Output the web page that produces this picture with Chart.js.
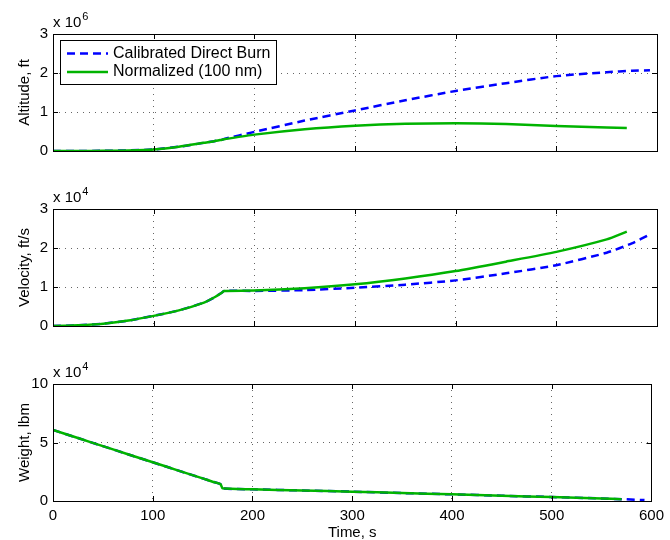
<!doctype html>
<html lang="en">
<head>
<meta charset="utf-8">
<title>Calibrated Direct Burn vs Normalized</title>
<style>
  body { margin: 0; background: #fff; }
  .panel { position: absolute; left: 0; width: 670px; }
</style>
</head>
<body>
<div class="panel" style="top:0;height:175px"><canvas id="alt"></canvas></div>
<div class="panel" style="top:175px;height:175px"><canvas id="vel"></canvas></div>
<div class="panel" style="top:350px;height:190px"><canvas id="wt"></canvas></div>
<script src="https://cdn.jsdelivr.net/npm/chart.js"></script>
<script>
// time, s
const tBurn = [0, 25, 50, 75, 100, 125, 150, 160, 168, 170, 200, 250, 300, 350, 400, 450, 500, 550, 575, 593];
const tNorm = [0, 25, 50, 75, 100, 125, 150, 160, 168, 170, 200, 250, 300, 350, 400, 450, 500, 550, 570];

// altitude, ft
const altBurn = [0, 0.001e6, 0.005e6, 0.015e6, 0.04e6, 0.11e6, 0.21e6, 0.25e6, 0.29e6, 0.31e6, 0.49e6, 0.78e6, 1.04e6, 1.30e6, 1.54e6, 1.74e6, 1.92e6, 2.02e6, 2.06e6, 2.07e6];
const altNorm = [0, 0.001e6, 0.005e6, 0.015e6, 0.04e6, 0.11e6, 0.21e6, 0.25e6, 0.29e6, 0.30e6, 0.42e6, 0.56e6, 0.65e6, 0.70e6, 0.71e6, 0.69e6, 0.64e6, 0.60e6, 0.59e6];

// velocity, ft/s
const velBurn = [0, 200, 600, 1400, 2600, 4000, 6000, 7300, 8600, 9000, 9000, 9200, 9800, 10600, 11700, 13500, 15600, 18800, 21200, 23500];
const velNorm = [0, 200, 600, 1400, 2600, 4000, 6000, 7300, 8600, 9000, 9100, 9700, 10700, 12200, 14100, 16500, 19000, 22200, 24200];

// weight, lbm
const wtBurn = [60700, 53800, 46900, 40000, 33100, 26200, 19300, 16500, 14300, 10900, 10000, 9000, 8000, 6800, 5700, 4500, 3400, 2200, 1400, 800];
const wtNorm = [60700, 53800, 46900, 40000, 33100, 26200, 19300, 16500, 14300, 10900, 10000, 9000, 8000, 6800, 5700, 4500, 3400, 2200, 1600];

const seriesNames = ['Calibrated Direct Burn', 'Normalized (100 nm)'];
const FONT = '"Liberation Sans", Arial, Helvetica, sans-serif';
const BLUE = '#0000ff';
const GREEN = '#00b300';

const pts = (ts, vs) => ts.map((t, i) => ({ x: t, y: vs[i] }));

// MATLAB-like box: frame, inward ticks, exponent label, legend
const boxFrame = {
  id: 'boxFrame',
  afterDraw(chart, args, opts) {
    const { ctx, chartArea: { left, right, top, bottom }, scales: { x, y } } = chart;
    ctx.save();
    ctx.strokeStyle = '#000';
    ctx.lineWidth = 1;
    ctx.beginPath();
    x.ticks.forEach(t => {
      const px = Math.round(x.getPixelForValue(t.value)) + 0.5;
      ctx.moveTo(px, bottom); ctx.lineTo(px, bottom - 5);
      ctx.moveTo(px, top); ctx.lineTo(px, top + 5);
    });
    y.ticks.forEach(t => {
      const py = Math.round(y.getPixelForValue(t.value)) + 0.5;
      ctx.moveTo(left, py); ctx.lineTo(left + 5, py);
      ctx.moveTo(right, py); ctx.lineTo(right - 5, py);
    });
    ctx.stroke();
    ctx.strokeRect(Math.round(left) + 0.5, Math.round(top) + 0.5, Math.round(right - left), Math.round(bottom - top));

    // exponent
    ctx.fillStyle = '#000';
    ctx.textAlign = 'left';
    ctx.textBaseline = 'alphabetic';
    ctx.font = '15px ' + FONT;
    ctx.fillText('x 10', left, top - 7);
    const w = ctx.measureText('x 10').width;
    ctx.font = '11px ' + FONT;
    ctx.fillText(opts.exp, left + w + 1, top - 14);

    if (opts.legend) {
      const bx = 60.5, by = 40.5, bw = 216, bh = 44;
      ctx.fillStyle = '#fff';
      ctx.fillRect(bx, by, bw, bh);
      ctx.strokeStyle = '#000';
      ctx.lineWidth = 1;
      ctx.strokeRect(bx, by, bw, bh);
      chart.data.datasets.forEach((ds, i) => {
        const ly = 53.5 + i * 18.5;
        ctx.strokeStyle = ds.borderColor;
        ctx.lineWidth = ds.borderWidth;
        ctx.setLineDash(ds.borderDash || []);
        ctx.beginPath();
        ctx.moveTo(67, ly);
        ctx.lineTo(108, ly);
        ctx.stroke();
        ctx.setLineDash([]);
        ctx.fillStyle = '#000';
        ctx.font = '16px ' + FONT;
        ctx.textBaseline = 'middle';
        ctx.fillText(ds.label, 113, ly);
      });
    }
    ctx.restore();
  }
};

const gridStyle = { color: 'rgba(0,0,0,0.6)', lineWidth: 1, drawTicks: false };
const gridBorder = { display: false, dash: [1, 5] };

function makePanel(id, burn, norm, yMax, yStep, div, title, exp, bottomAxis, legend) {
  new Chart(document.getElementById(id), {
    type: 'line',
    data: {
      datasets: [
        { label: seriesNames[0], data: burn, borderColor: BLUE, borderWidth: 2.5, borderDash: [8, 5], order: 1 },
        { label: seriesNames[1], data: norm, borderColor: GREEN, borderWidth: 2.5, order: 0 }
      ]
    },
    options: {
      responsive: true,
      maintainAspectRatio: false,
      animation: false,
      events: [],
      elements: { point: { radius: 0 }, line: { tension: 0.2, fill: false } },
      layout: { padding: { left: 0, right: 13, top: 34, bottom: bottomAxis ? 0 : 24 } },
      plugins: {
        legend: { display: false },
        tooltip: { enabled: false },
        boxFrame: { exp: exp, legend: legend }
      },
      scales: {
        x: {
          type: 'linear', min: 0, max: 600,
          border: gridBorder,
          grid: gridStyle,
          ticks: { display: bottomAxis, stepSize: 100, color: '#000', padding: 6, font: { family: FONT, size: 15 }, maxRotation: 0 },
          title: { display: bottomAxis, text: 'Time, s', color: '#000', padding: { top: 0, bottom: 0 }, font: { family: FONT, size: 15, lineHeight: 1 } },
          afterFit: s => { s.height = bottomAxis ? 39 : 0; }
        },
        y: {
          min: 0, max: yMax,
          border: gridBorder,
          grid: gridStyle,
          ticks: { stepSize: yStep, color: '#000', padding: 5, font: { family: FONT, size: 15 }, callback: v => v / div },
          title: { display: true, text: title, color: '#000', padding: { top: 16, bottom: 0 }, font: { family: FONT, size: 15 } },
          afterFit: s => { s.width = 53; }
        }
      }
    },
    plugins: [boxFrame]
  });
}

makePanel('alt', pts(tBurn, altBurn), pts(tNorm, altNorm), 3e6, 1e6, 1e6, 'Altitude, ft', '6', false, true);
makePanel('vel', pts(tBurn, velBurn), pts(tNorm, velNorm), 3e4, 1e4, 1e4, 'Velocity, ft/s', '4', false, false);
makePanel('wt', pts(tBurn, wtBurn), pts(tNorm, wtNorm), 10e4, 5e4, 1e4, 'Weight, lbm', '4', true, false);
</script>
</body>
</html>
